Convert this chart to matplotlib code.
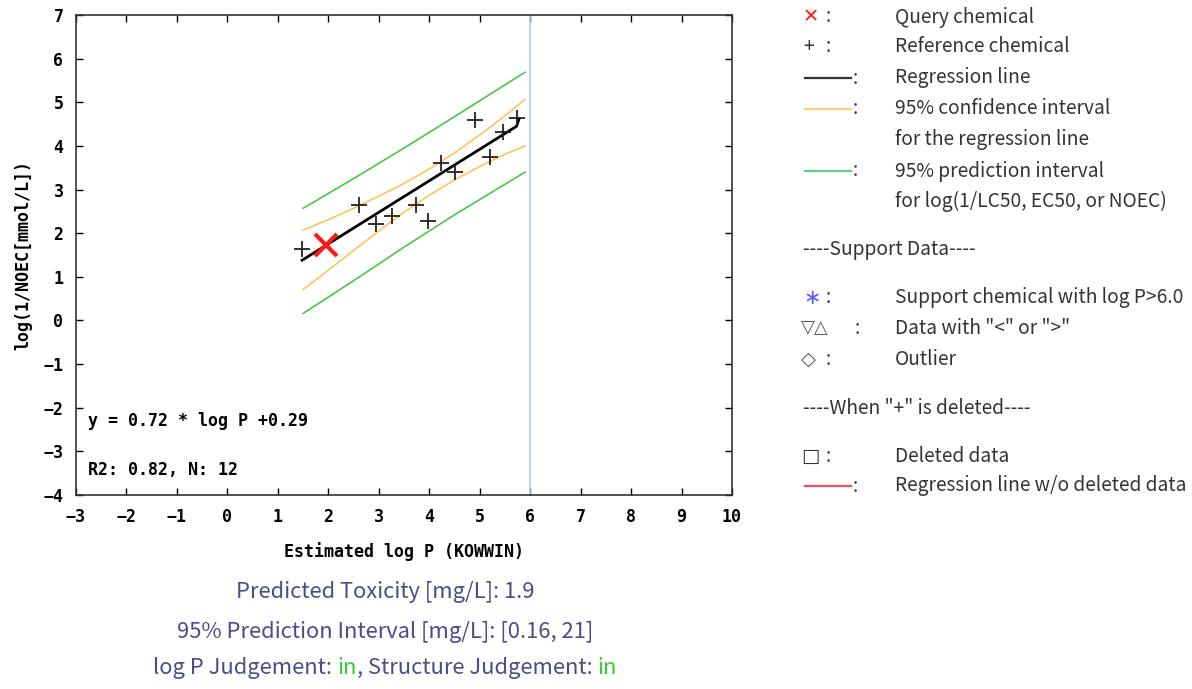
import numpy as np
import matplotlib.pyplot as plt

# reference chemicals (log P, log(1/NOEC))
ref_x = [1.48, 2.61, 2.94, 3.27, 3.73, 3.98, 4.24, 4.51, 4.91, 5.20, 5.46, 5.74]
ref_y = [1.63, 2.64, 2.21, 2.40, 2.64, 2.28, 3.60, 3.41, 4.59, 3.75, 4.31, 4.64]

query_x = [1.95]
query_y = [1.73]

# regression line
reg_x = [1.48, 5.73, 5.78]
reg_y = [1.38, 4.45, 4.62]

# 95% confidence band
ci_x = [1.5, 2.0, 2.5, 3.0, 3.5, 4.0, 4.5, 5.0, 5.5, 5.9]
ci_up = [2.07, 2.31, 2.57, 2.85, 3.14, 3.47, 3.84, 4.25, 4.69, 5.07]
ci_lo = [0.71, 1.15, 1.60, 2.05, 2.48, 2.87, 3.22, 3.53, 3.81, 4.00]

# 95% prediction band
pi_x = [1.5, 2.5, 3.5, 4.5, 5.9]
pi_up = [2.57, 3.25, 3.95, 4.67, 5.69]
pi_lo = [0.16, 0.91, 1.68, 2.42, 3.40]

logp_limit = 6.0

xticks = list(range(-3, 11))
yticks = list(range(-4, 8))

fig = plt.figure(figsize=(11.92, 6.89), dpi=100)
ax = fig.add_axes([76/1192, 1-495/689, (732-76)/1192, (495-15)/689])

mono = 'DejaVu Sans Mono'
mfs = 12
ax.axvline(logp_limit, color='#a9d3e8', lw=1.2)
ax.plot(pi_x, pi_up, color='#3cc43c', lw=1.1)
ax.plot(pi_x, pi_lo, color='#3cc43c', lw=1.1)
ax.plot(ci_x, ci_up, color='#ffc04d', lw=1.1)
ax.plot(ci_x, ci_lo, color='#ffc04d', lw=1.1)
ax.plot(reg_x, reg_y, color='black', lw=2)
ax.plot(ref_x, ref_y, '+', color='#222222', ms=12, mew=1.3)
ax.plot(query_x, query_y, 'x', color='#ff1a1a', ms=16, mew=3)

ax.set_xlim(-3, 10)
ax.set_ylim(-4, 7)
ax.set_xticks(xticks)
ax.set_yticks(yticks)
ax.tick_params(direction='in', top=True, right=True, length=5, width=1,
               labelsize=mfs, pad=9)
for lab in ax.get_xticklabels() + ax.get_yticklabels():
    lab.set_family(mono)
    lab.set_fontweight('bold')
for s in ax.spines.values():
    s.set_linewidth(1.2)
    s.set_color('#333333')

ax.set_xlabel('Estimated log P (KOWWIN)', family=mono, fontweight='bold',
              fontsize=mfs, labelpad=12)
ax.set_ylabel('log(1/NOEC[mmol/L])', family=mono, fontweight='bold',
              fontsize=mfs, labelpad=8)

ax.text(0.018, 0.155, 'y = 0.72 * log P +0.29', transform=ax.transAxes,
        family=mono, fontweight='bold', fontsize=mfs, va='center')
ax.text(0.018, 0.053, 'R2: 0.82, N: 12', transform=ax.transAxes,
        family=mono, fontweight='bold', fontsize=mfs, va='center')

# legend on the right side
sans = ['Noto Sans CJK JP', 'DejaVu Sans']
tc = '#333333'
fs = 13.8

def fy(py):
    return 1 - py / 689

def fx(px):
    return px / 1192

rows = [
    (17, 'Query chemical'),
    (47, 'Reference chemical'),
    (78, 'Regression line'),
    (109, '95% confidence interval'),
    (140, 'for the regression line'),
    (171, '95% prediction interval'),
    (201, 'for log(1/LC50, EC50, or NOEC)'),
    (298, 'Support chemical with log P>6.0'),
    (328, 'Data with "<" or ">"'),
    (359, 'Outlier'),
    (456, 'Deleted data'),
    (486, 'Regression line w/o deleted data'),
]
for py, t in rows:
    fig.text(fx(895), fy(py), t, family=sans, fontsize=fs, color=tc, va='center')

fig.text(fx(803), fy(250), '----Support Data----', family=sans, fontsize=fs, color=tc, va='center')
fig.text(fx(803), fy(409), '----When "+" is deleted----', family=sans, fontsize=fs, color=tc, va='center')

# legend symbols
fig.text(fx(803), fy(17), '\u2715', family=sans, fontsize=14, color='#ff1a1a', va='center', fontweight='bold')
fig.text(fx(826), fy(17), ':', family=sans, fontsize=fs, color=tc, va='center')
fig.text(fx(803), fy(47), '+', family=sans, fontsize=fs, color=tc, va='center')
fig.text(fx(826), fy(47), ':', family=sans, fontsize=fs, color=tc, va='center')
for py, col in [(78, '#333333'), (109, '#ffd080'), (171, '#5fcf80'), (486, '#ff5050')]:
    fig.add_artist(plt.Line2D([fx(805), fx(851)], [fy(py), fy(py)], color=col, lw=1.6))
    fig.text(fx(853), fy(py), ':', family=sans, fontsize=fs, color=tc, va='center')
fig.text(fx(803), fy(298), '\u2217', family=['DejaVu Sans'], fontsize=15, color='#5a5aff', va='center')
fig.text(fx(826), fy(298), ':', family=sans, fontsize=fs, color=tc, va='center')
fig.text(fx(801), fy(328), '\u25bd\u25b3', family=['DejaVu Sans'], fontsize=13, color='#555555', va='center')
fig.text(fx(855), fy(328), ':', family=sans, fontsize=fs, color=tc, va='center')
fig.text(fx(801), fy(359), '\u25c7', family=['DejaVu Sans'], fontsize=14, color='#555555', va='center')
fig.text(fx(826), fy(359), ':', family=sans, fontsize=fs, color=tc, va='center')
fig.text(fx(801), fy(456), '\u25a1', family=['DejaVu Sans'], fontsize=14, color='#333333', va='center')
fig.text(fx(826), fy(456), ':', family=sans, fontsize=fs, color=tc, va='center')

# result text under the plot
bc = '#4a4a8c'
gc = '#33cc33'
bfs = 15.8
fig.text(fx(385), fy(592), 'Predicted Toxicity [mg/L]: 1.9', family=sans, fontsize=bfs,
         color=bc, ha='center', va='center')
fig.text(fx(385), fy(632), '95% Prediction Interval [mg/L]: [0.16, 21]', family=sans,
         fontsize=bfs, color=bc, ha='center', va='center')

parts = [('log P Judgement: ', bc), ('in', gc), (', Structure Judgement: ', bc), ('in', gc)]
renderer = fig.canvas.get_renderer()
texts = []
widths = []
for t, c in parts:
    tt = fig.text(0, fy(668), t, family=sans, fontsize=bfs, color=c, va='center')
    widths.append(tt.get_window_extent(renderer).width)
    texts.append(tt)
x0 = 385 - sum(widths) / 2
for tt, w in zip(texts, widths):
    tt.set_x(fx(x0))
    x0 += w

fig.savefig('out.png', dpi=100)
